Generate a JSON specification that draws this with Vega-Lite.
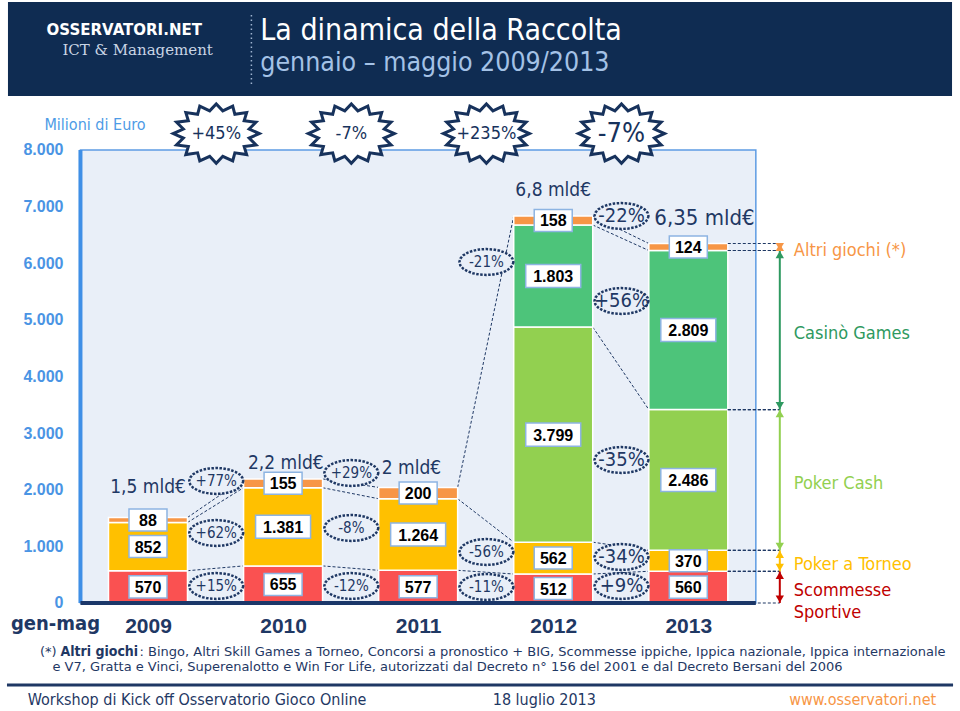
{
 "$schema": "https://vega.github.io/schema/vega-lite/v6.json",
 "width": 960, "height": 711,
 "autosize": {"type": "none"},
 "padding": 0,
 "background": "white",
 "config": {"view": {"stroke": null}, "locale": {"number": {"decimal": ",", "thousands": ".", "grouping": [3], "currency": ["", "€"]}}, "text": {"font": "DejaVu Sans Condensed, DejaVu Sans"}},
 "resolve": {"axis": {"x": "independent", "y": "independent"}},
 "data": {"values": [
  {"year": 2009, "cat": "Scommesse Sportive", "order": 1, "value": 570},
  {"year": 2009, "cat": "Poker a Torneo", "order": 2, "value": 852},
  {"year": 2009, "cat": "Poker Cash", "order": 3, "value": 0},
  {"year": 2009, "cat": "Casinò Games", "order": 4, "value": 0},
  {"year": 2009, "cat": "Altri giochi (*)", "order": 5, "value": 88},
  {"year": 2010, "cat": "Scommesse Sportive", "order": 1, "value": 655},
  {"year": 2010, "cat": "Poker a Torneo", "order": 2, "value": 1381},
  {"year": 2010, "cat": "Poker Cash", "order": 3, "value": 0},
  {"year": 2010, "cat": "Casinò Games", "order": 4, "value": 0},
  {"year": 2010, "cat": "Altri giochi (*)", "order": 5, "value": 155},
  {"year": 2011, "cat": "Scommesse Sportive", "order": 1, "value": 577},
  {"year": 2011, "cat": "Poker a Torneo", "order": 2, "value": 1264},
  {"year": 2011, "cat": "Poker Cash", "order": 3, "value": 0},
  {"year": 2011, "cat": "Casinò Games", "order": 4, "value": 0},
  {"year": 2011, "cat": "Altri giochi (*)", "order": 5, "value": 200},
  {"year": 2012, "cat": "Scommesse Sportive", "order": 1, "value": 512},
  {"year": 2012, "cat": "Poker a Torneo", "order": 2, "value": 562},
  {"year": 2012, "cat": "Poker Cash", "order": 3, "value": 3799},
  {"year": 2012, "cat": "Casinò Games", "order": 4, "value": 1803},
  {"year": 2012, "cat": "Altri giochi (*)", "order": 5, "value": 158},
  {"year": 2013, "cat": "Scommesse Sportive", "order": 1, "value": 560},
  {"year": 2013, "cat": "Poker a Torneo", "order": 2, "value": 370},
  {"year": 2013, "cat": "Poker Cash", "order": 3, "value": 2486},
  {"year": 2013, "cat": "Casinò Games", "order": 4, "value": 2809},
  {"year": 2013, "cat": "Altri giochi (*)", "order": 5, "value": 124}
 ]},
 "layer": [
  {"data": {"values": [{}]}, "mark": {"type": "rect", "fill": "#0F2C52"},
   "encoding": {"x": {"datum": 2007.9634, "type": "quantitative", "scale": {"domain": [2007.9414, 2014.9744], "nice": false, "zero": false}, "axis": null}, "x2": {"datum": 2014.9524},
    "y": {"datum": 10613.7, "type": "quantitative", "scale": {"domain": [-1907.3, 10649], "nice": false, "zero": false}, "axis": null}, "y2": {"datum": 8953.6}}},
  {"data": {"values": [{}]}, "mark": {"type": "rule", "stroke": "#9FB4D0", "strokeWidth": 1.5, "strokeDash": [1.5, 3]},
   "encoding": {"x": {"datum": 2009.7656, "type": "quantitative", "scale": {"domain": [2007.9414, 2014.9744], "nice": false, "zero": false}, "axis": null},
    "y": {"datum": 10384, "type": "quantitative", "scale": {"domain": [-1907.3, 10649], "nice": false, "zero": false}, "axis": null}, "y2": {"datum": 9130}}},
  {"data": {"values": [{}]}, "mark": {"type": "text", "align": "left", "baseline": "middle", "font": "DejaVu Sans", "fontWeight": "bold", "fontSize": 15, "color": "white"},
   "encoding": {"x": {"datum": 2008.2491, "type": "quantitative", "scale": {"domain": [2007.9414, 2014.9744], "nice": false, "zero": false}, "axis": null},
    "y": {"datum": 10119, "type": "quantitative", "scale": {"domain": [-1907.3, 10649], "nice": false, "zero": false}, "axis": null}, "text": {"value": "OSSERVATORI.NET"}}},
  {"data": {"values": [{}]}, "mark": {"type": "text", "align": "left", "baseline": "middle", "font": "DejaVu Serif", "fontSize": 15, "color": "#C9D5E5"},
   "encoding": {"x": {"datum": 2008.3663, "type": "quantitative", "scale": {"domain": [2007.9414, 2014.9744], "nice": false, "zero": false}, "axis": null},
    "y": {"datum": 9766, "type": "quantitative", "scale": {"domain": [-1907.3, 10649], "nice": false, "zero": false}, "axis": null}, "text": {"value": "ICT & Management"}}},
  {"data": {"values": [{}]}, "mark": {"type": "text", "align": "left", "baseline": "middle", "fontSize": 30, "color": "white"},
   "encoding": {"x": {"datum": 2009.8315, "type": "quantitative", "scale": {"domain": [2007.9414, 2014.9744], "nice": false, "zero": false}, "axis": null},
    "y": {"datum": 10101, "type": "quantitative", "scale": {"domain": [-1907.3, 10649], "nice": false, "zero": false}, "axis": null}, "text": {"value": "La dinamica della Raccolta"}}},
  {"data": {"values": [{}]}, "mark": {"type": "text", "align": "left", "baseline": "middle", "fontSize": 26.5, "color": "#A4C2E6"},
   "encoding": {"x": {"datum": 2009.8315, "type": "quantitative", "scale": {"domain": [2007.9414, 2014.9744], "nice": false, "zero": false}, "axis": null},
    "y": {"datum": 9536, "type": "quantitative", "scale": {"domain": [-1907.3, 10649], "nice": false, "zero": false}, "axis": null}, "text": {"value": "gennaio – maggio 2009/2013"}}},
  {"data": {"values": [{}]}, "mark": {"type": "rect", "fill": "#E9EFF8", "stroke": "#5D9CE3", "strokeWidth": 1.5},
   "encoding": {"x": {"datum": 2008.5, "type": "quantitative", "scale": {"domain": [2007.9414, 2014.9744], "nice": false, "zero": false}, "axis": null}, "x2": {"datum": 2013.5},
    "y": {"datum": 0, "type": "quantitative", "scale": {"domain": [-1907.3, 10649], "nice": false, "zero": false}, "axis": null}, "y2": {"datum": 8000}}},
  {"transform": [
    {"filter": "datum.value > 0"},
    {"stack": "value", "groupby": ["year"], "sort": [{"field": "order", "order": "ascending"}], "as": ["y0", "y1"]},
    {"calculate": "(datum.y0 + datum.y1) / 2", "as": "mid"}
   ],
   "resolve": {"axis": {"x": "independent", "y": "independent"}},
   "layer": [
    {"transform": [
      {"window": [{"op": "lead", "field": "y1", "as": "ny1"}, {"op": "lead", "field": "year", "as": "nyear"}], "groupby": ["cat"], "sort": [{"field": "year", "order": "ascending"}]},
      {"filter": "datum.nyear != null"}
     ],
     "mark": {"type": "rule", "xOffset": 39.5, "x2Offset": -39.5, "stroke": "#1F3864", "strokeWidth": 1, "strokeDash": [3, 2]},
     "encoding": {"x": {"field": "year", "type": "quantitative", "scale": {"domain": [2007.9414, 2014.9744], "nice": false, "zero": false}, "axis": null}, "x2": {"field": "nyear"},
      "y": {"field": "y1", "type": "quantitative", "scale": {"domain": [-1907.3, 10649], "nice": false, "zero": false}, "axis": null}, "y2": {"field": "ny1"}}},
    {"mark": {"type": "bar", "width": 79, "stroke": "white", "strokeWidth": 1.5},
     "encoding": {
      "x": {"field": "year", "type": "quantitative", "scale": {"domain": [2007.9414, 2014.9744], "nice": false, "zero": false},
       "axis": {"orient": "bottom", "values": [2009, 2010, 2011, 2012, 2013], "format": "d", "offset": -108, "domain": false, "ticks": false, "grid": false, "title": null, "labelFont": "Liberation Sans", "labelFontWeight": "bold", "labelFontSize": 21, "labelColor": "#1F3864", "labelPadding": 12}},
      "y": {"field": "y1", "type": "quantitative", "scale": {"domain": [-1907.3, 10649], "nice": false, "zero": false},
       "axis": {"orient": "left", "values": [0, 1000, 2000, 3000, 4000, 5000, 6000, 7000, 8000], "format": ",d", "offset": -77, "domain": false, "ticks": false, "grid": false, "title": null, "labelFont": "Liberation Sans", "labelFontWeight": "bold", "labelFontSize": 16, "labelColor": "#4A94E4", "labelPadding": 14}},
      "y2": {"field": "y0"},
      "color": {"field": "cat", "type": "nominal", "legend": null, "scale": {"domain": ["Scommesse Sportive", "Poker a Torneo", "Poker Cash", "Casinò Games", "Altri giochi (*)"], "range": ["#FA5151", "#FFC000", "#92D050", "#4DC47A", "#F79646"]}}
     }},
    {"mark": {"type": "point", "filled": true, "fill": "white", "stroke": "#8DB4E2", "strokeWidth": 1.5, "opacity": 1},
     "encoding": {"x": {"field": "year", "type": "quantitative", "scale": {"domain": [2007.9414, 2014.9744], "nice": false, "zero": false}, "axis": null},
      "y": {"field": "mid", "type": "quantitative", "scale": {"domain": [-1907.3, 10649], "nice": false, "zero": false}, "axis": null},
      "shape": {"condition": {"test": "datum.value >= 1000", "value": "M-1,-0.42L1,-0.42L1,0.42L-1,0.42Z"}, "value": "M-1,-0.58L1,-0.58L1,0.58L-1,0.58Z"},
      "size": {"condition": {"test": "datum.value >= 1000", "value": 3025}, "value": 1444}}},
    {"mark": {"type": "text", "font": "Liberation Sans", "fontWeight": "bold", "fontSize": 16, "color": "black", "dy": 1},
     "encoding": {"x": {"field": "year", "type": "quantitative", "scale": {"domain": [2007.9414, 2014.9744], "nice": false, "zero": false}, "axis": null},
      "y": {"field": "mid", "type": "quantitative", "scale": {"domain": [-1907.3, 10649], "nice": false, "zero": false}, "axis": null},
      "text": {"field": "value", "type": "quantitative", "format": ",d"}}}
   ]},
  {"data": {"values": [{}]}, "mark": {"type": "rule", "stroke": "#3F8FE6", "strokeWidth": 4},
   "encoding": {"x": {"datum": 2008.5, "type": "quantitative", "scale": {"domain": [2007.9414, 2014.9744], "nice": false, "zero": false}, "axis": null},
    "y": {"datum": 0, "type": "quantitative", "scale": {"domain": [-1907.3, 10649], "nice": false, "zero": false}, "axis": null}, "y2": {"datum": 8000}}},
  {"data": {"values": [{}]}, "mark": {"type": "rule", "stroke": "#1B3769", "strokeWidth": 4},
   "encoding": {"x": {"datum": 2008.5, "type": "quantitative", "scale": {"domain": [2007.9414, 2014.9744], "nice": false, "zero": false}, "axis": null}, "x2": {"datum": 2013.5},
    "y": {"datum": 0, "type": "quantitative", "scale": {"domain": [-1907.3, 10649], "nice": false, "zero": false}, "axis": null}}},
  {"data": {"values": [
    {"from": 2009, "level": 2155, "pct": "+77%"}, {"from": 2009, "level": 1236, "pct": "+62%"}, {"from": 2009, "level": 300, "pct": "+15%"},
    {"from": 2010, "level": 2296, "pct": "+29%"}, {"from": 2010, "level": 1325, "pct": "-8%"}, {"from": 2010, "level": 300, "pct": "-12%"},
    {"from": 2011, "level": 6022, "pct": "-21%"}, {"from": 2011, "level": 901, "pct": "-56%"}, {"from": 2011, "level": 283, "pct": "-11%"},
    {"from": 2012, "level": 6834, "pct": "-22%"}, {"from": 2012, "level": 5333, "pct": "+56%"}, {"from": 2012, "level": 2525, "pct": "-35%"},
    {"from": 2012, "level": 812, "pct": "-34%"}, {"from": 2012, "level": 300, "pct": "+9%"}
   ]},
   "layer": [
    {"mark": {"type": "point", "shape": "M1,0L0.966,0.124L0.866,0.24L0.707,0.339L0.5,0.416L0.259,0.464L0,0.48L-0.259,0.464L-0.5,0.416L-0.707,0.339L-0.866,0.24L-0.966,0.124L-1,0L-0.966,-0.124L-0.866,-0.24L-0.707,-0.339L-0.5,-0.416L-0.259,-0.464L0,-0.48L0.259,-0.464L0.5,-0.416L0.707,-0.339L0.866,-0.24L0.966,-0.124Z", "size": 2916, "filled": true, "fill": "#E9EFF8", "stroke": "#1F3864", "strokeWidth": 2.5, "strokeDash": [2.5, 1.5], "opacity": 1, "xOffset": 68.25},
     "encoding": {"x": {"field": "from", "type": "quantitative", "scale": {"domain": [2007.9414, 2014.9744], "nice": false, "zero": false}, "axis": null},
      "y": {"field": "level", "type": "quantitative", "scale": {"domain": [-1907.3, 10649], "nice": false, "zero": false}, "axis": null}}},
    {"mark": {"type": "text", "color": "#1F3864", "xOffset": 68.25},
     "encoding": {"x": {"field": "from", "type": "quantitative", "scale": {"domain": [2007.9414, 2014.9744], "nice": false, "zero": false}, "axis": null},
      "y": {"field": "level", "type": "quantitative", "scale": {"domain": [-1907.3, 10649], "nice": false, "zero": false}, "axis": null},
      "text": {"field": "pct", "type": "nominal"},
      "size": {"condition": {"test": "datum.from === 2012", "value": 20}, "value": 15}}}
   ]},
  {"data": {"values": [{"from": 2009, "pct": "+45%"}, {"from": 2010, "pct": "-7%"}, {"from": 2011, "pct": "+235%"}, {"from": 2012, "pct": "-7%"}]},
   "layer": [
    {"mark": {"type": "point", "shape": "M1,0L0.765,0.105L0.924,0.264L0.649,0.299L0.707,0.488L0.433,0.448L0.383,0.637L0.152,0.528L0,0.69L-0.152,0.528L-0.383,0.637L-0.433,0.448L-0.707,0.488L-0.649,0.299L-0.924,0.264L-0.765,0.105L-1,0L-0.765,-0.105L-0.924,-0.264L-0.649,-0.299L-0.707,-0.488L-0.433,-0.448L-0.383,-0.637L-0.152,-0.528L0,-0.69L0.152,-0.528L0.383,-0.637L0.433,-0.448L0.707,-0.488L0.649,-0.299L0.924,-0.264L0.765,-0.105Z", "size": 7396, "filled": true, "fill": "white", "stroke": "#17325C", "strokeWidth": 3, "opacity": 1, "xOffset": 68.25},
     "encoding": {"x": {"field": "from", "type": "quantitative", "scale": {"domain": [2007.9414, 2014.9744], "nice": false, "zero": false}, "axis": null},
      "y": {"datum": 8290, "type": "quantitative", "scale": {"domain": [-1907.3, 10649], "nice": false, "zero": false}, "axis": null}}},
    {"mark": {"type": "text", "color": "#17325C", "xOffset": 68.25},
     "encoding": {"x": {"field": "from", "type": "quantitative", "scale": {"domain": [2007.9414, 2014.9744], "nice": false, "zero": false}, "axis": null},
      "y": {"datum": 8290, "type": "quantitative", "scale": {"domain": [-1907.3, 10649], "nice": false, "zero": false}, "axis": null},
      "text": {"field": "pct", "type": "nominal"},
      "size": {"condition": {"test": "datum.from === 2012", "value": 27}, "value": 18}}}
   ]},
  {"data": {"values": [
    {"pos": 2009, "level": 2049, "lbl": "1,5 mld€"}, {"pos": 2010.02, "level": 2472, "lbl": "2,2 mld€"}, {"pos": 2010.95, "level": 2384, "lbl": "2 mld€"},
    {"pos": 2012, "level": 7294, "lbl": "6,8 mld€"}, {"pos": 2013.12, "level": 6799, "lbl": "6,35 mld€"}
   ]},
   "mark": {"type": "text", "color": "#1F3864"},
   "encoding": {"x": {"field": "pos", "type": "quantitative", "scale": {"domain": [2007.9414, 2014.9744], "nice": false, "zero": false}, "axis": null},
    "y": {"field": "level", "type": "quantitative", "scale": {"domain": [-1907.3, 10649], "nice": false, "zero": false}, "axis": null},
    "text": {"field": "lbl", "type": "nominal"},
    "size": {"condition": {"test": "datum.pos > 2013", "value": 22}, "value": 19}}},
  {"data": {"values": [{}]}, "mark": {"type": "text", "fontSize": 16, "color": "#4D9BE6"},
   "encoding": {"x": {"datum": 2008.6081, "type": "quantitative", "scale": {"domain": [2007.9414, 2014.9744], "nice": false, "zero": false}, "axis": null},
    "y": {"datum": 8441.5, "type": "quantitative", "scale": {"domain": [-1907.3, 10649], "nice": false, "zero": false}, "axis": null}, "text": {"value": "Milioni di Euro"}}},
  {"data": {"values": [{}]}, "mark": {"type": "text", "fontSize": 20, "fontWeight": "bold", "color": "#1F3864"},
   "encoding": {"x": {"datum": 2008.315, "type": "quantitative", "scale": {"domain": [2007.9414, 2014.9744], "nice": false, "zero": false}, "axis": null},
    "y": {"datum": -370.9, "type": "quantitative", "scale": {"domain": [-1907.3, 10649], "nice": false, "zero": false}, "axis": null}, "text": {"value": "gen-mag"}}},
  {"transform": [
    {"filter": "datum.value > 0"},
    {"stack": "value", "groupby": ["year"], "sort": [{"field": "order", "order": "ascending"}], "as": ["y0", "y1"]},
    {"calculate": "(datum.y0 + datum.y1) / 2", "as": "mid"},
    {"filter": "datum.year === 2013"},
    {"calculate": "datum.cat === 'Scommesse Sportive' ? 'Scommesse\\nSportive' : datum.cat", "as": "lbl"}
   ],
   "layer": [
    {"mark": {"type": "rule", "xOffset": 39.5, "x2Offset": 91.5, "stroke": "#1F3864", "strokeWidth": 1.2, "strokeDash": [3, 2]},
     "encoding": {"x": {"field": "year", "type": "quantitative", "scale": {"domain": [2007.9414, 2014.9744], "nice": false, "zero": false}, "axis": null}, "x2": {"field": "year"},
      "y": {"field": "y1", "type": "quantitative", "scale": {"domain": [-1907.3, 10649], "nice": false, "zero": false}, "axis": null}}},
    {"mark": {"type": "rule", "xOffset": 39.5, "x2Offset": 91.5, "stroke": "#1F3864", "strokeWidth": 1.2, "strokeDash": [3, 2]},
     "encoding": {"x": {"field": "year", "type": "quantitative", "scale": {"domain": [2007.9414, 2014.9744], "nice": false, "zero": false}, "axis": null}, "x2": {"field": "year"},
      "y": {"field": "y0", "type": "quantitative", "scale": {"domain": [-1907.3, 10649], "nice": false, "zero": false}, "axis": null}}},
    {"mark": {"type": "rule", "xOffset": 91.5, "strokeWidth": 2},
     "encoding": {"x": {"field": "year", "type": "quantitative", "scale": {"domain": [2007.9414, 2014.9744], "nice": false, "zero": false}, "axis": null},
      "y": {"field": "y0", "type": "quantitative", "scale": {"domain": [-1907.3, 10649], "nice": false, "zero": false}, "axis": null}, "y2": {"field": "y1"},
      "stroke": {"field": "cat", "type": "nominal", "legend": null, "scale": {"domain": ["Scommesse Sportive", "Poker a Torneo", "Poker Cash", "Casinò Games", "Altri giochi (*)"], "range": ["#C00000", "#FFC000", "#92D050", "#2E9960", "#F79646"]}}}},
    {"mark": {"type": "point", "shape": "triangle-up", "size": 70, "filled": true, "opacity": 1, "xOffset": 91.5, "yOffset": 4},
     "encoding": {"x": {"field": "year", "type": "quantitative", "scale": {"domain": [2007.9414, 2014.9744], "nice": false, "zero": false}, "axis": null},
      "y": {"field": "y1", "type": "quantitative", "scale": {"domain": [-1907.3, 10649], "nice": false, "zero": false}, "axis": null},
      "fill": {"field": "cat", "type": "nominal", "legend": null, "scale": {"domain": ["Scommesse Sportive", "Poker a Torneo", "Poker Cash", "Casinò Games", "Altri giochi (*)"], "range": ["#C00000", "#FFC000", "#92D050", "#2E9960", "#F79646"]}}}},
    {"mark": {"type": "point", "shape": "triangle-down", "size": 70, "filled": true, "opacity": 1, "xOffset": 91.5, "yOffset": -4},
     "encoding": {"x": {"field": "year", "type": "quantitative", "scale": {"domain": [2007.9414, 2014.9744], "nice": false, "zero": false}, "axis": null},
      "y": {"field": "y0", "type": "quantitative", "scale": {"domain": [-1907.3, 10649], "nice": false, "zero": false}, "axis": null},
      "fill": {"field": "cat", "type": "nominal", "legend": null, "scale": {"domain": ["Scommesse Sportive", "Poker a Torneo", "Poker Cash", "Casinò Games", "Altri giochi (*)"], "range": ["#C00000", "#FFC000", "#92D050", "#2E9960", "#F79646"]}}}},
    {"mark": {"type": "text", "align": "left", "baseline": "top", "dy": -5, "fontSize": 18, "lineBreak": "\n", "lineHeight": 22, "xOffset": 105.5},
     "encoding": {"x": {"field": "year", "type": "quantitative", "scale": {"domain": [2007.9414, 2014.9744], "nice": false, "zero": false}, "axis": null},
      "y": {"field": "mid", "type": "quantitative", "scale": {"domain": [-1907.3, 10649], "nice": false, "zero": false}, "axis": null},
      "text": {"field": "lbl", "type": "nominal"},
      "fill": {"field": "cat", "type": "nominal", "legend": null, "scale": {"domain": ["Scommesse Sportive", "Poker a Torneo", "Poker Cash", "Casinò Games", "Altri giochi (*)"], "range": ["#C00000", "#FFC000", "#92D050", "#2E9960", "#F79646"]}}}}
   ]},
  {"data": {"values": [{}]}, "mark": {"type": "text", "align": "left", "font": "DejaVu Sans", "fontSize": 13, "color": "#1F3864"},
   "encoding": {"x": {"datum": 2008.2, "type": "quantitative", "scale": {"domain": [2007.9414, 2014.9744], "nice": false, "zero": false}, "axis": null},
    "y": {"datum": -865, "type": "quantitative", "scale": {"domain": [-1907.3, 10649], "nice": false, "zero": false}, "axis": null}, "text": {"value": "(*)"}}},
  {"data": {"values": [{}]}, "mark": {"type": "text", "align": "left", "fontSize": 14, "fontWeight": "bold", "color": "#1F3864"},
   "encoding": {"x": {"datum": 2008.3516, "type": "quantitative", "scale": {"domain": [2007.9414, 2014.9744], "nice": false, "zero": false}, "axis": null},
    "y": {"datum": -865, "type": "quantitative", "scale": {"domain": [-1907.3, 10649], "nice": false, "zero": false}, "axis": null}, "text": {"value": "Altri giochi"}}},
  {"data": {"values": [{}]}, "mark": {"type": "text", "align": "left", "font": "DejaVu Sans", "fontSize": 13, "color": "#1F3864"},
   "encoding": {"x": {"datum": 2008.9377, "type": "quantitative", "scale": {"domain": [2007.9414, 2014.9744], "nice": false, "zero": false}, "axis": null},
    "y": {"datum": -865, "type": "quantitative", "scale": {"domain": [-1907.3, 10649], "nice": false, "zero": false}, "axis": null}, "text": {"value": ": Bingo, Altri Skill Games a Torneo, Concorsi a pronostico + BIG, Scommesse ippiche, Ippica nazionale, Ippica internazionale"}}},
  {"data": {"values": [{}]}, "mark": {"type": "text", "align": "left", "font": "DejaVu Sans", "fontSize": 13, "color": "#1F3864"},
   "encoding": {"x": {"datum": 2008.293, "type": "quantitative", "scale": {"domain": [2007.9414, 2014.9744], "nice": false, "zero": false}, "axis": null},
    "y": {"datum": -1130, "type": "quantitative", "scale": {"domain": [-1907.3, 10649], "nice": false, "zero": false}, "axis": null}, "text": {"value": "e V7, Gratta e Vinci, Superenalotto e Win For Life, autorizzati dal Decreto n° 156 del 2001 e dal Decreto Bersani del 2006"}}},
  {"data": {"values": [{}]}, "mark": {"type": "rule", "stroke": "#1F3864", "strokeWidth": 3},
   "encoding": {"x": {"datum": 2007.956, "type": "quantitative", "scale": {"domain": [2007.9414, 2014.9744], "nice": false, "zero": false}, "axis": null}, "x2": {"datum": 2014.96},
    "y": {"datum": -1448, "type": "quantitative", "scale": {"domain": [-1907.3, 10649], "nice": false, "zero": false}, "axis": null}}},
  {"data": {"values": [{}]}, "mark": {"type": "text", "align": "left", "fontSize": 16, "color": "#1F3864"},
   "encoding": {"x": {"datum": 2008.1099, "type": "quantitative", "scale": {"domain": [2007.9414, 2014.9744], "nice": false, "zero": false}, "axis": null},
    "y": {"datum": -1713, "type": "quantitative", "scale": {"domain": [-1907.3, 10649], "nice": false, "zero": false}, "axis": null}, "text": {"value": "Workshop di Kick off Osservatorio Gioco Online"}}},
  {"data": {"values": [{}]}, "mark": {"type": "text", "align": "center", "fontSize": 16, "color": "#1F3864"},
   "encoding": {"x": {"datum": 2011.934, "type": "quantitative", "scale": {"domain": [2007.9414, 2014.9744], "nice": false, "zero": false}, "axis": null},
    "y": {"datum": -1713, "type": "quantitative", "scale": {"domain": [-1907.3, 10649], "nice": false, "zero": false}, "axis": null}, "text": {"value": "18 luglio 2013"}}},
  {"data": {"values": [{}]}, "mark": {"type": "text", "align": "right", "fontSize": 16, "color": "#F79646"},
   "encoding": {"x": {"datum": 2014.835, "type": "quantitative", "scale": {"domain": [2007.9414, 2014.9744], "nice": false, "zero": false}, "axis": null},
    "y": {"datum": -1713, "type": "quantitative", "scale": {"domain": [-1907.3, 10649], "nice": false, "zero": false}, "axis": null}, "text": {"value": "www.osservatori.net"}}}
 ]
}
